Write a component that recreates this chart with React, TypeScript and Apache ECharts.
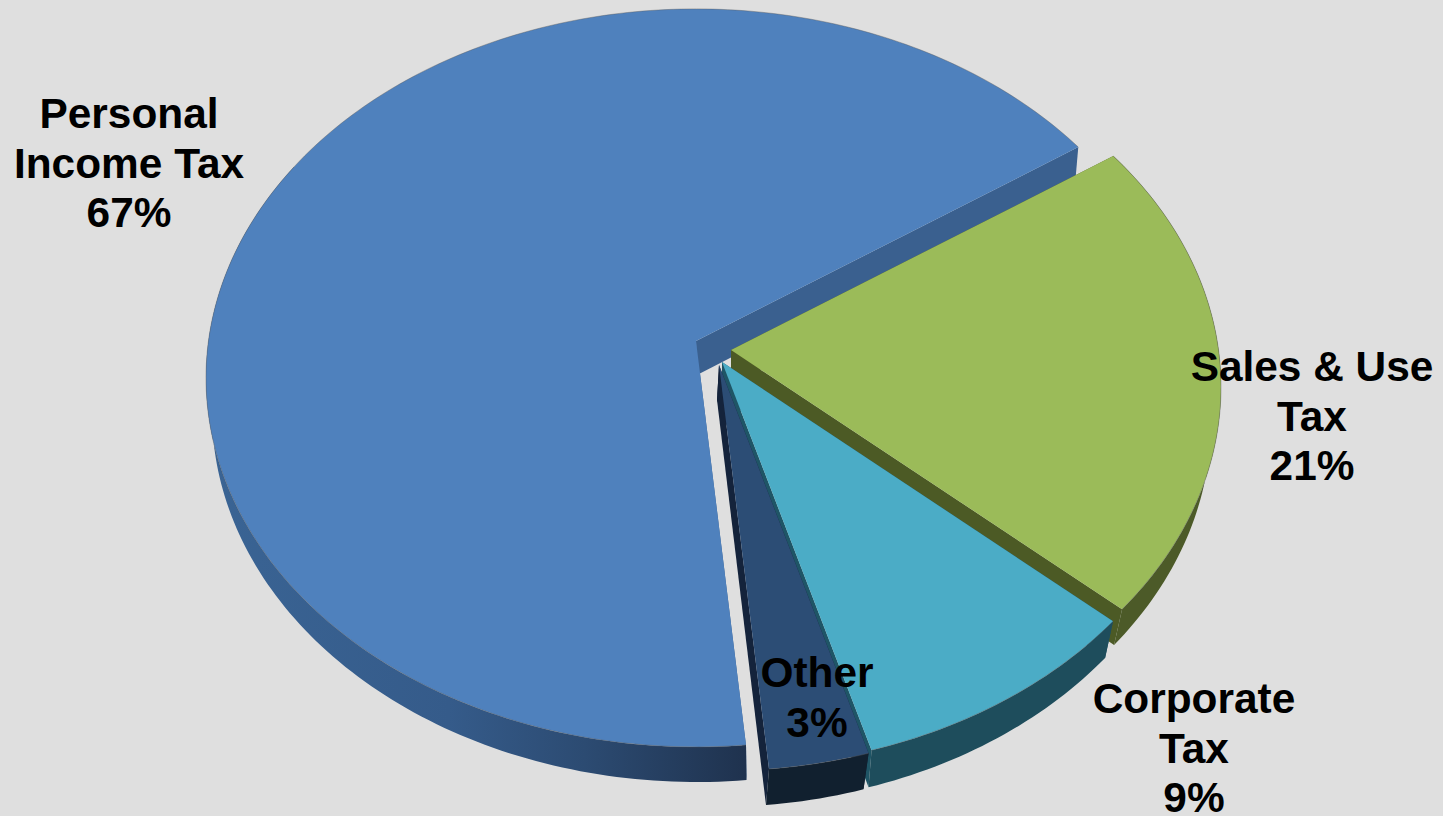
import React, { useEffect, useRef } from "react";
import * as echarts from "echarts";

// ---- data ----
const sliceNames = ["Personal Income Tax", "Sales & Use Tax", "Corporate Tax", "Other"];
const sliceValues = [67, 21, 9, 3];
const labelLines = [["Personal", "Income Tax"], ["Sales & Use", "Tax"], ["Corporate", "Tax"], ["Other"]];

// ---- layout and style ----
const WIDTH = 1443;
const HEIGHT = 816;
const START_ANGLE = 174.7;
const RX = 490;
const RY = 369;
const TILT = 0.1; // perspective shift of the pie's centre inside its ellipse
const BOTTOM_RY = 370;
const WALL_END_ANGLE = 300; // the rim wall is hidden under the top face beyond this angle
const bottomRx = [485, 480, 480, 480];
const topApex = [[696, 341], [731, 350], [722, 362], [719, 365]];
const bottomApex = [[697, 375], [731, 385], [722, 398], [717, 400]];
const labelAnchors = [[129, 89], [1312, 342], [1194, 674], [817, 648]];
const topColors = ["#4f81bd", "#9bbb59", "#4bacc6", "#2c4d75"];
const cutColors = ["#3a608f", "#4c5a25", "#1f5566", "#14233b"];
const wallFills: any[] = [
  {
    type: "linear", x: 0, y: 0, x2: 1, y2: 0,
    colorStops: [
      { offset: 0, color: "#3a6494" },
      { offset: 0.45, color: "#355b8a" },
      { offset: 0.7, color: "#2c4b72" },
      { offset: 1, color: "#1f324e" },
    ],
  },
  "#4c5a28",
  "#1e4d5c",
  "#11202f",
];

// A point on the rim: angle is clockwise from the top of the pie, seen through the perspective tilt.
function rim(deg: number, apex: number[], rx: number, ry: number, tilt: number) {
  const a = (deg * Math.PI) / 180;
  const u = Math.sin(a);
  const v = -Math.cos(a);
  const d = 1 - tilt * v;
  const vp = (v - tilt) / d;
  const up = (u * Math.sqrt(1 - tilt * tilt)) / d;
  return [apex[0] + up * rx, apex[1] + tilt * ry + vp * ry];
}

function arc(a0: number, a1: number, apex: number[], rx: number, ry: number, tilt: number) {
  const pts: number[][] = [];
  const n = Math.max(2, Math.ceil(Math.abs(a1 - a0)));
  for (let i = 0; i <= n; i++) pts.push(rim(a0 + ((a1 - a0) * i) / n, apex, rx, ry, tilt));
  return pts;
}

const total = sliceValues.reduce((s, v) => s + v, 0);

function renderSlice(params: any, api: any) {
  const i = params.dataIndex;
  const before = sliceValues.slice(0, i).reduce((s, v) => s + v, 0);
  const a0 = START_ANGLE + (before / total) * 360;
  const a1 = a0 + (api.value(0) / total) * 360;
  const tA = topApex[i];
  const bA = bottomApex[i];
  const topAt = (deg: number) => rim(deg, tA, RX, RY, TILT);
  const botAt = (deg: number) => rim(deg, bA, bottomRx[i], BOTTOM_RY, TILT);
  const quad = (deg: number) => [tA, topAt(deg), botAt(deg), bA];
  const wallEnd = a0 < WALL_END_ANGLE && a1 > WALL_END_ANGLE ? WALL_END_ANGLE : a1;
  const topArc = arc(a0, a1, tA, RX, RY, TILT);
  const wallTop = arc(a0, wallEnd, tA, RX, RY, TILT);
  const wallBot = arc(a0, wallEnd, bA, bottomRx[i], BOTTOM_RY, TILT);
  return {
    type: "group",
    children: [
      { type: "polygon", shape: { points: quad(a0) }, style: { fill: cutColors[i] }, silent: true },
      { type: "polygon", shape: { points: quad(a1) }, style: { fill: cutColors[i] }, silent: true },
      {
        type: "polygon",
        shape: { points: [...wallTop, ...wallBot.slice().reverse()] },
        style: { fill: wallFills[i] },
        silent: true,
      },
      { type: "polygon", shape: { points: [tA, ...topArc] }, style: { fill: topColors[i] }, silent: true },
      {
        type: "polyline",
        shape: { points: topArc },
        style: { fill: "none", stroke: "rgba(90,90,90,0.4)", lineWidth: 1 },
        silent: true,
      },
    ],
  };
}

export default function App() {
  const ref = useRef<HTMLDivElement>(null);
  useEffect(() => {
    const chart = echarts.init(ref.current!, null, { renderer: "svg", width: WIDTH, height: HEIGHT });
    chart.setOption({
      animation: false,
      backgroundColor: "#dfdfdf",
      series: [
        {
          type: "custom",
          coordinateSystem: "none",
          renderItem: renderSlice,
          data: sliceValues.map((v, i) => ({ name: sliceNames[i], value: [v] })),
        },
      ],
      graphic: labelLines.map((lines, i) => ({
        type: "text",
        x: labelAnchors[i][0],
        y: labelAnchors[i][1],
        z: 100,
        silent: true,
        style: {
          text: [...lines, `${sliceValues[i]}%`].join("\n"),
          fill: "#000000",
          font: 'bold 42.4px "Liberation Sans", Arial, sans-serif',
          lineHeight: 49.5,
          textAlign: "center",
          textVerticalAlign: "top",
        },
      })),
    });
    return () => chart.dispose();
  }, []);
  return <div ref={ref} style={{ position: "absolute", left: 0, top: 0, width: WIDTH, height: HEIGHT }} />;
}
